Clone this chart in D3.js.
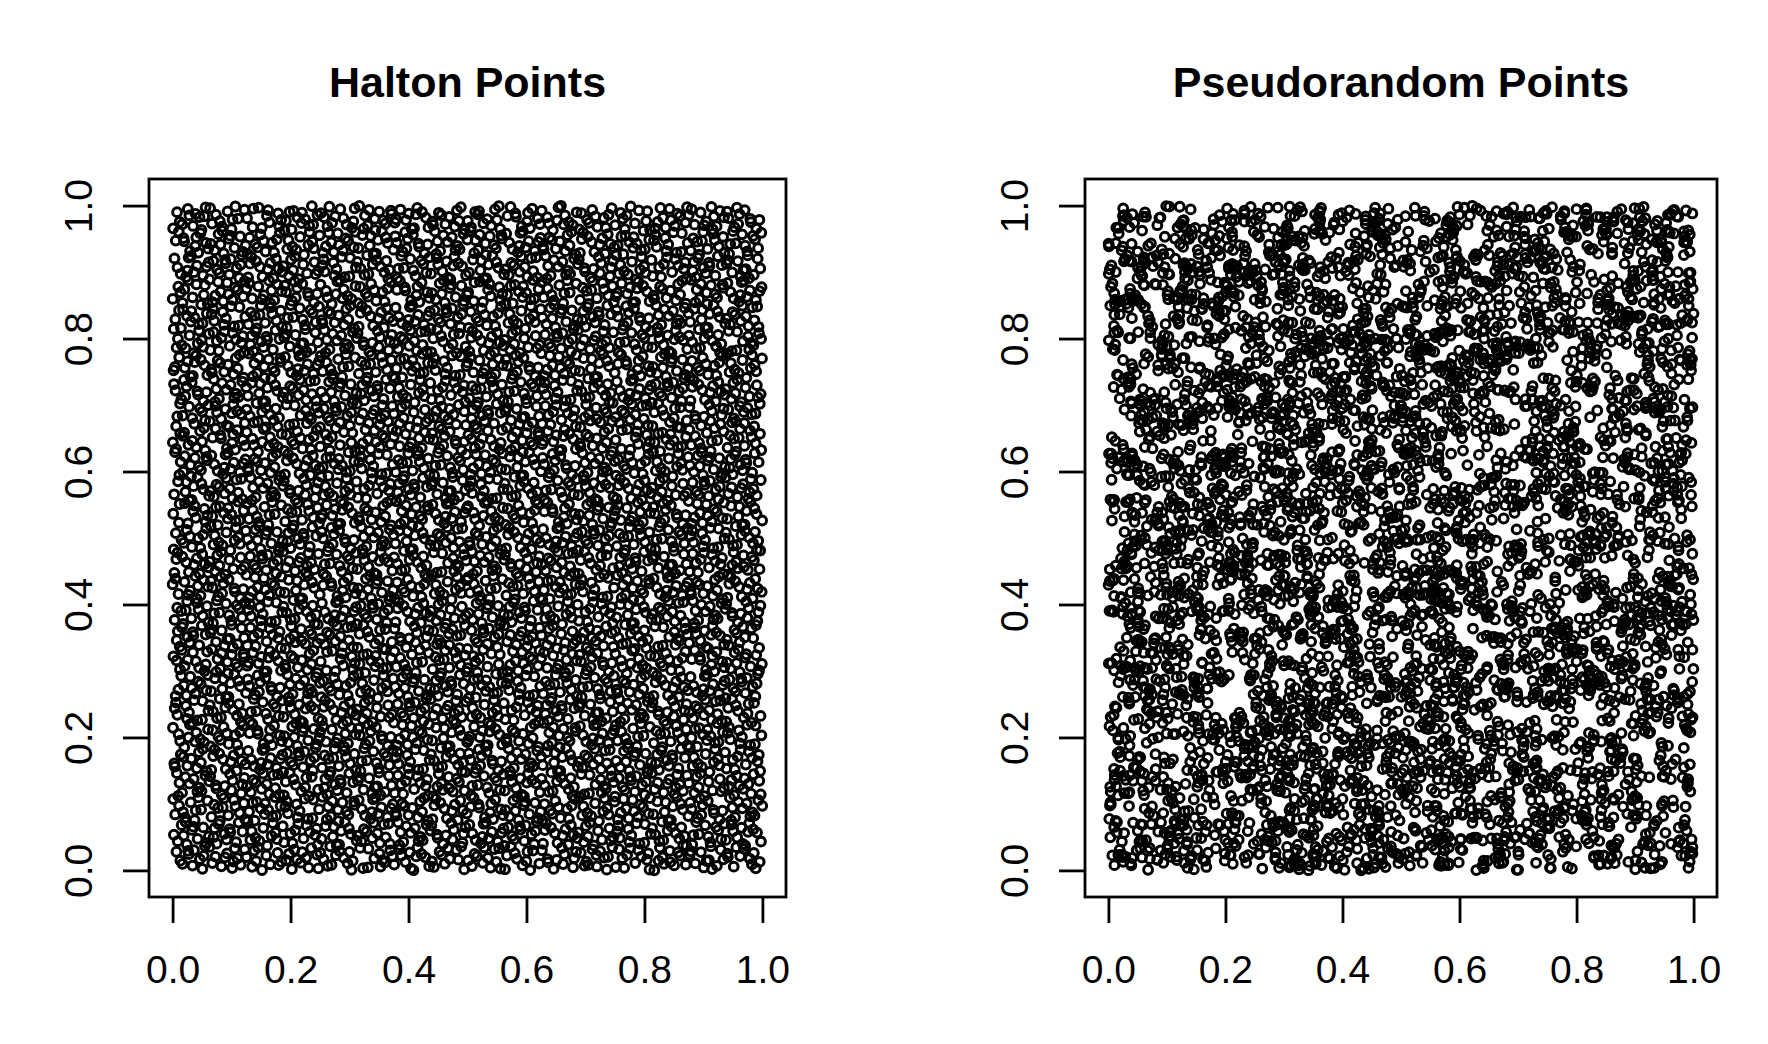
<!DOCTYPE html>
<html><head><meta charset="utf-8">
<script src="https://cdn.jsdelivr.net/npm/d3@7"></script>
<style>body{margin:0;background:#fff}text{font-family:"Liberation Sans",Arial,sans-serif}</style>
</head><body><svg id="c" width="1768" height="1044"></svg>
<script>
// Chart content
const titles = ["Halton Points", "Pseudorandom Points"];
const tickValues = [0, 0.2, 0.4, 0.6, 0.8, 1.0];
const tickLabels = ["0.0", "0.2", "0.4", "0.6", "0.8", "1.0"];
const nPoints = 5000;
// NOTE: the individual points cannot be read from the picture.
// Halton points: the deterministic Halton sequence (bases 2 and 3), which is what the left panel depicts.
function radicalInverse(i, b){let f=1,r=0;while(i>0){f/=b;r+=f*(i%b);i=Math.floor(i/b);}return r;}
const haltonX = d3.range(1, nPoints+1).map(i => radicalInverse(i, 2));
const haltonY = d3.range(1, nPoints+1).map(i => radicalInverse(i, 3));
// Pseudorandom points: a stand-in stream from a seeded generator, NOT the original draws.
const rng = d3.randomLcg(0.42);
const pseudoX = d3.range(nPoints).map(() => rng());
const pseudoY = d3.range(nPoints).map(() => rng());

const svg = d3.select("#c");
const panels = [
  {x0:149, x1:786, title:titles[0], xs:haltonX, ys:haltonY},
  {x0:1085, x1:1717, title:titles[1], xs:pseudoX, ys:pseudoY}
];
const yTop=179, yBot=897;
panels.forEach(p=>{
  const pad=(p.x1-p.x0)*0.04/1.08, padY=(yBot-yTop)*0.04/1.08;
  const x=d3.scaleLinear().domain([0,1]).range([p.x0+pad, p.x1-pad]);
  const y=d3.scaleLinear().domain([0,1]).range([yBot-padY, yTop+padY]);
  const g=svg.append("g");
  g.selectAll("circle").data(p.xs).join("circle")
    .attr("cx",d=>x(d)).attr("cy",(d,i)=>y(p.ys[i])).attr("r",4.4)
    .attr("fill","none").attr("stroke","#000").attr("stroke-width",3);
  g.append("rect").attr("x",p.x0).attr("y",yTop).attr("width",p.x1-p.x0).attr("height",yBot-yTop)
    .attr("fill","none").attr("stroke","#000").attr("stroke-width",2.8);
  const xa=g.append("g").attr("transform",`translate(0,${yBot})`)
    .call(d3.axisBottom(x).tickValues(tickValues).tickFormat((d,i)=>tickLabels[i]).tickSize(26).tickPadding(32));
  const ya=g.append("g").attr("transform",`translate(${p.x0},0)`)
    .call(d3.axisLeft(y).tickValues(tickValues).tickFormat((d,i)=>tickLabels[i]).tickSize(26).tickPadding(20));
  [xa,ya].forEach(a=>{a.select(".domain").remove();
    a.selectAll("line").attr("stroke","#000").attr("stroke-width",2.8);
    a.selectAll("text").attr("font-size",39).attr("fill","#000").attr("font-family","Liberation Sans, Arial, sans-serif");});
  ya.selectAll(".tick text").attr("transform","rotate(-90)").attr("x",0).attr("dy","0.35em")
    .attr("text-anchor","middle").attr("y",-71);
  g.append("text").attr("x",(p.x0+p.x1)/2).attr("y",97).attr("text-anchor","middle")
    .attr("font-size",43).attr("font-weight","bold").text(p.title);
});
</script></body></html>
